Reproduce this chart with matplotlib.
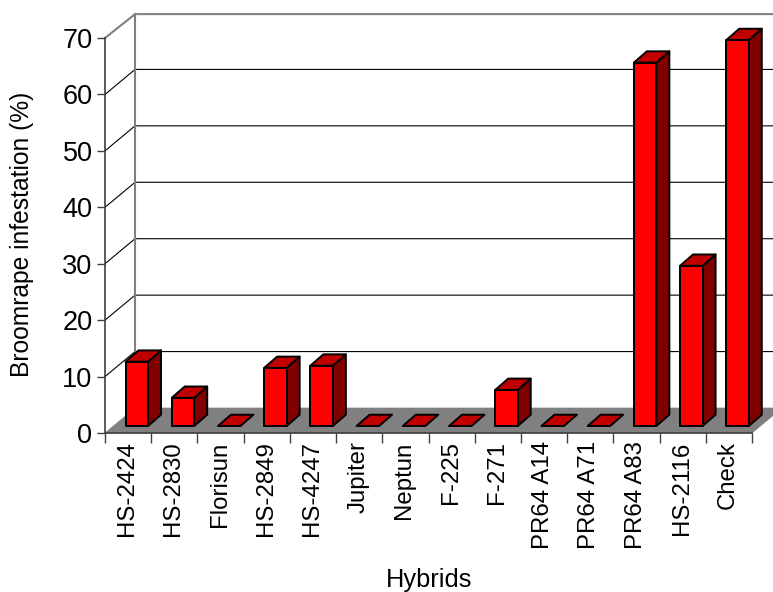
import matplotlib
matplotlib.use("Agg")
import matplotlib.pyplot as plt
from matplotlib.patches import Polygon

plt.rcParams['font.family'] = ['Liberation Sans', 'DejaVu Sans']

# Data
hybrids = ["HS-2424", "HS-2830", "Florisun", "HS-2849", "HS-4247", "Jupiter", "Neptun",
           "F-225", "F-271", "PR64 A14", "PR64 A71", "PR64 A83", "HS-2116", "Check"]
infestation = [11.4, 5.0, 0, 10.3, 10.7, 0, 0, 0, 6.4, 0, 0, 64.4, 28.4, 68.4]
y_ticks = [0, 10, 20, 30, 40, 50, 60, 70]

# 3D look: offsets of the back wall and of the bars, in data units
DEPTH_X, DEPTH_Y = 0.65, 4.43
BAR_LEFT, BAR_W = 0.444, 0.487
BAR_BASE = 1.24
BAR_DX, BAR_DY = 0.281, 2.0

W, H = 773, 592
fig = plt.figure(figsize=(W / 100, H / 100), dpi=100)
ax = fig.add_axes([105 / W, (H - 433) / H, 647 / W, 395 / H])
ax.set_xlim(0, len(hybrids))
ax.set_ylim(0, 70)
ax.patch.set_visible(False)

# walls and grid
top_back = 70 + DEPTH_Y - 0.2
for v in y_ticks[1:-1]:
    ax.plot([0, DEPTH_X, len(hybrids) + DEPTH_X], [v, v + DEPTH_Y, v + DEPTH_Y],
            color='black', lw=0.8, clip_on=False, zorder=1)
ax.plot([0, DEPTH_X, len(hybrids) + DEPTH_X], [70, top_back, top_back],
        color='#808080', lw=1.5, clip_on=False, zorder=1)
ax.plot([DEPTH_X, DEPTH_X], [DEPTH_Y, top_back], color='#808080', lw=1.5, clip_on=False, zorder=1)

# floor
floor = [(0, 0), (DEPTH_X, DEPTH_Y), (len(hybrids) + DEPTH_X, DEPTH_Y), (len(hybrids), 0)]
ax.add_patch(Polygon(floor, closed=True, fc='#808080', ec='#808080', lw=0.5, clip_on=False, zorder=2))

# bars
for i, val in enumerate(infestation):
    x0 = i + BAR_LEFT
    x1 = x0 + BAR_W
    y0 = BAR_BASE
    y1 = BAR_BASE + val
    top = [(x0, y1), (x0 + BAR_DX, y1 + BAR_DY), (x1 + BAR_DX, y1 + BAR_DY), (x1, y1)]
    style = dict(closed=True, ec='black', lw=1.4, joinstyle='round', clip_on=False, zorder=3)
    if val > 0:
        side = [(x1, y0), (x1 + BAR_DX, y0 + BAR_DY), (x1 + BAR_DX, y1 + BAR_DY), (x1, y1)]
        ax.add_patch(Polygon(side, fc='#800000', **style))
        ax.add_patch(Polygon([(x0, y0), (x1, y0), (x1, y1), (x0, y1)], fc='#ff0000', **style))
    ax.add_patch(Polygon(top, fc='#c00000', **style))

# axes
for s in ['top', 'right']:
    ax.spines[s].set_visible(False)
for s in ['left', 'bottom']:
    ax.spines[s].set_color('#404040')
    ax.spines[s].set_linewidth(1.2)
    ax.spines[s].set_zorder(4)

ax.set_yticks(y_ticks)
ax.tick_params(axis='y', labelsize=19.5, length=6, width=1.0, color='#404040', pad=3)
ax.set_xticks(range(len(hybrids) + 1))
ax.set_xticklabels([])
ax.tick_params(axis='x', which='major', length=7, width=1.0, color='#404040')
ax.set_xticks([i + 0.48 for i in range(len(hybrids))], minor=True)
ax.set_xticklabels(hybrids, minor=True, rotation=90, fontsize=17.3)
ax.tick_params(axis='x', which='minor', length=0, pad=6)

fig.text(22 / W, 1 - 234.5 / H, "Broomrape infestation (%)", rotation=90, fontsize=17.7,
         ha='center', va='center')
fig.text(429 / W, 1 - 580 / H, "Hybrids", fontsize=18.3, ha='center', va='center')

fig.savefig("out.png", dpi=100)
